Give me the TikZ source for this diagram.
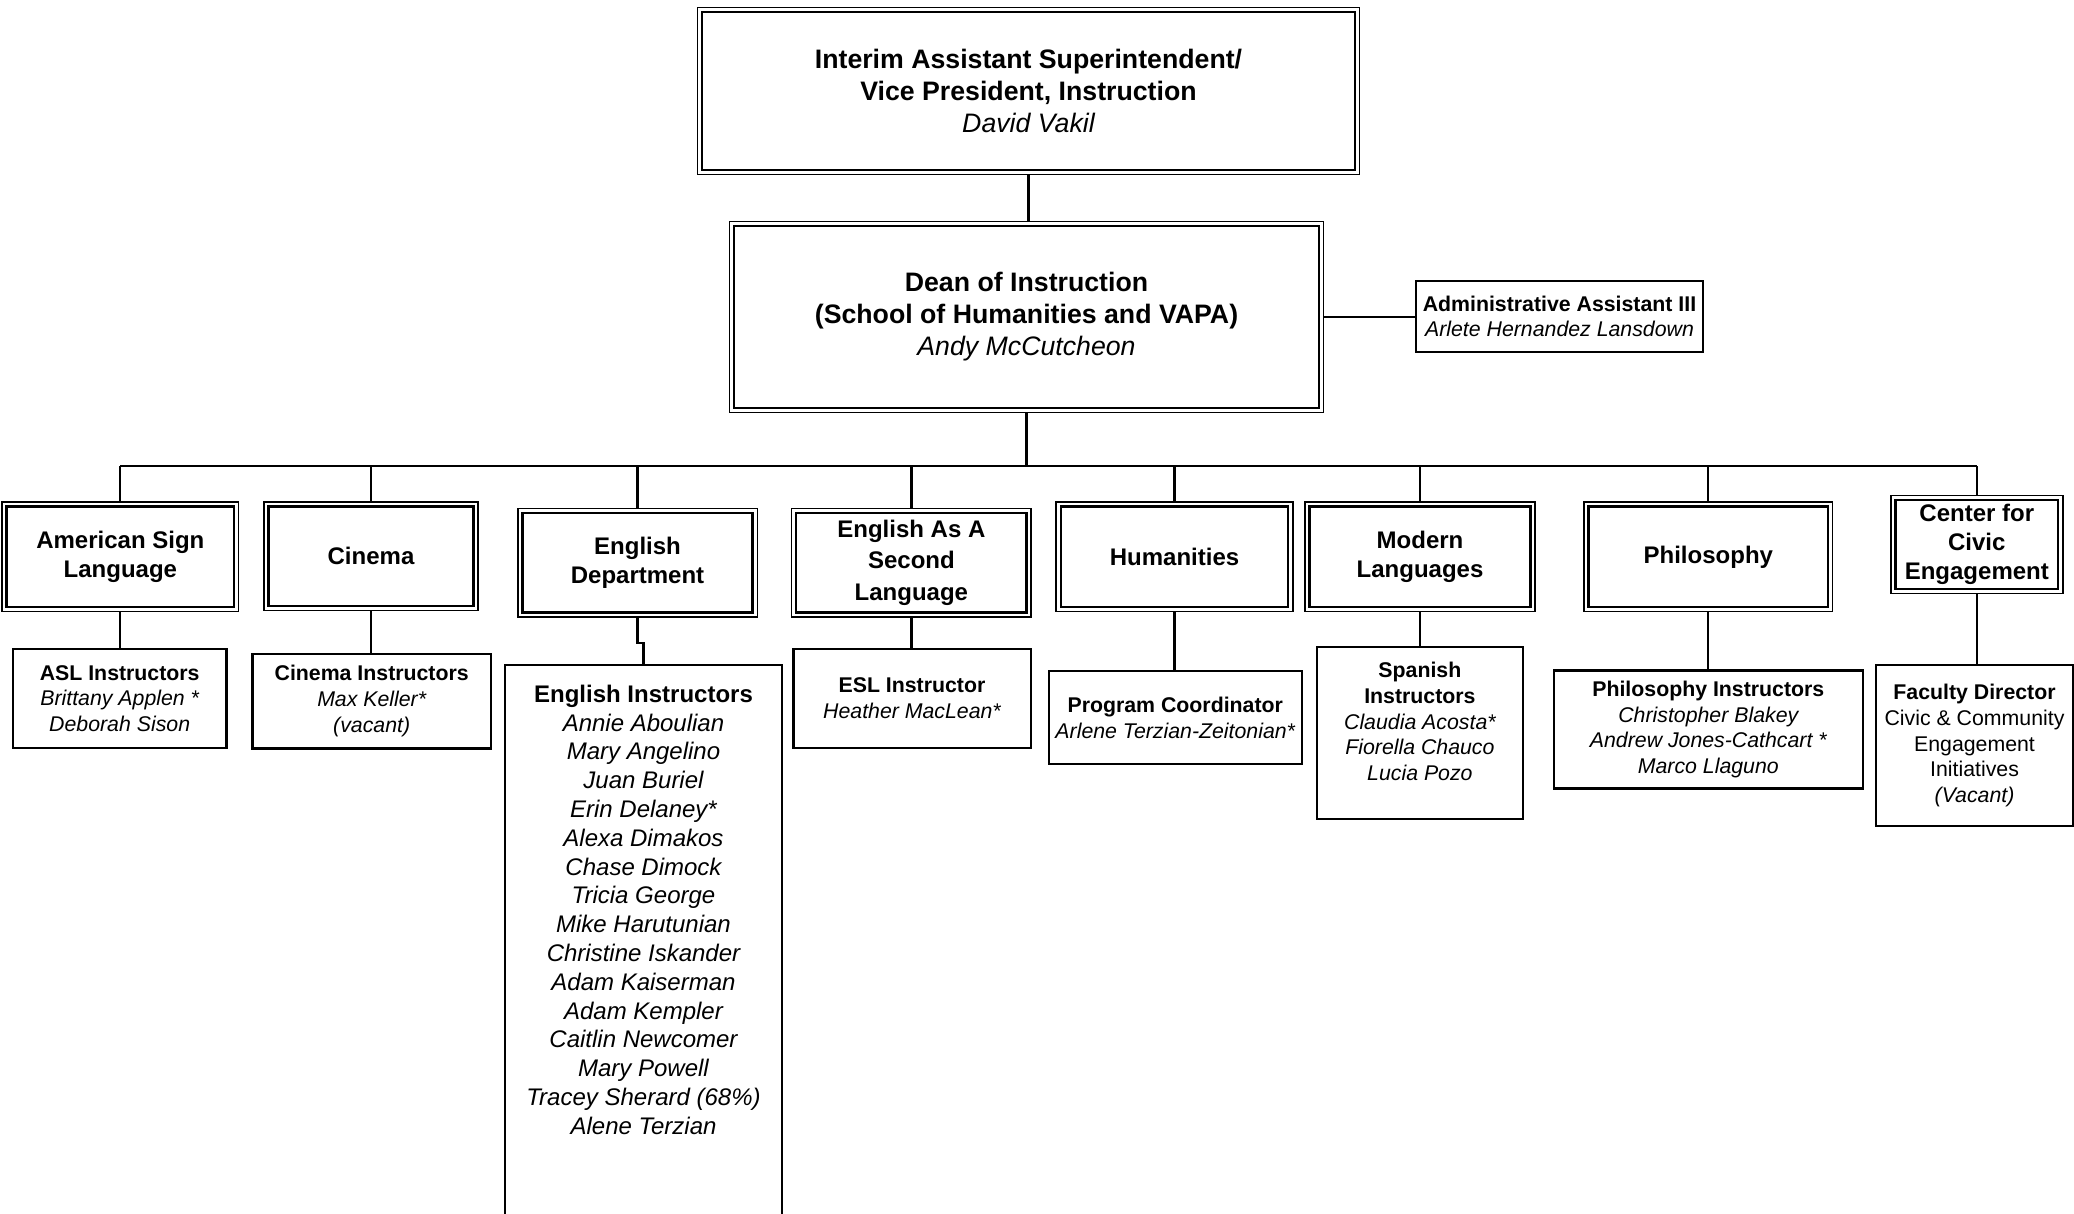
\documentclass[tikz,border=0pt]{standalone}
\usepackage{fontspec}
\setmainfont{Liberation Sans}
\newcommand\pname[1]{{\mdseries\itshape #1}}
\newcommand\plainln[1]{{\mdseries\upshape #1}}
\begin{document}
\begin{tikzpicture}[x=1pt,y=-1pt,
  dbl/.style={draw, line width=1.4pt, inner sep=0pt, align=center,
    path picture={\draw[line width=2.3pt]
      ([shift={(4.6pt,-4.6pt)}]path picture bounding box.north west) rectangle
      ([shift={(-4.6pt,4.6pt)}]path picture bounding box.south east);}},
  sgl/.style={draw, line width=2.2pt, inner sep=0pt, align=center},
  conn/.style={line width=2.2pt},
  big/.style={font=\fontsize{26.7}{32}\selectfont\bfseries},
  dept/.style={font=\fontsize{24}{29}\selectfont\bfseries},
  sub/.style={font=\fontsize{21.3}{25.8}\selectfont\bfseries},
  txt/.style={inner sep=0pt, align=center}]
\useasboundingbox (0,0) rectangle (2074,1214);

% top levels
\node[dbl, big, minimum width=661.7, minimum height=166.7] (vp) at (1028.5,91)
  {Interim Assistant Superintendent/\\Vice President, Instruction\\\pname{David Vakil}};
\node[dbl, big, minimum width=593.7, minimum height=190.7] (dean) at (1026.5,317)
  {Dean of Instruction\\(School of Humanities and VAPA)\\\pname{Andy McCutcheon}};
\node[sgl, font=\fontsize{21.3}{25}\selectfont\bfseries, minimum width=286.8, minimum height=70.8] (admin) at (1559.5,316.5)
  {Administrative Assistant III\\\pname{Arlete Hernandez Lansdown}};

% departments
\node[dbl, dept, minimum width=236.8, minimum height=109.8] (asl) at (120.35,556.85) {American Sign\\Language};
\node[dbl, dept, minimum width=214.3, minimum height=108.5] (cin) at (371,556.2) {Cinema};
\node[dbl, dept, minimum width=239.4, minimum height=108.5] (engd) at (637.5,562.8) {English\\Department};
\node[dbl, dept, font=\fontsize{24}{31.5}\selectfont\bfseries, minimum width=239.4, minimum height=108.5] (esl) at (911.4,562.8) {English As A\\Second\\Language};
\node[dbl, dept, minimum width=236.8, minimum height=109.8] (hum) at (1174.5,556.85) {Humanities};
\node[dbl, dept, minimum width=230.2, minimum height=109.8] (mod) at (1420,556.85) {Modern\\Languages};
\node[dbl, dept, minimum width=248.6, minimum height=109.8] (phil) at (1708.3,556.85) {Philosophy};
\node[dbl, dept, minimum width=172, minimum height=97.9] (cce) at (1976.8,544.3) {Center for\\Civic\\Engagement};

% staff boxes
\node[sgl, sub, minimum width=213.4, minimum height=99.7] (asli) at (119.7,698.5)
  {ASL Instructors\\\pname{Brittany Applen *}\\\pname{Deborah Sison}};
\node[sgl, sub, minimum width=238.6, minimum height=94.4] (cini) at (371.7,701.2)
  {Cinema Instructors\\\pname{Max Keller*}\\\pname{(vacant)}};
\node[sgl, anchor=north, minimum width=276.8, minimum height=600] (engi) at (643.5,663.8) {};
\node[txt, font=\fontsize{24}{28.8}\selectfont\bfseries] (engit) at (643.5,909.8)
  {English Instructors\\\pname{Annie Aboulian}\\\pname{Mary Angelino}\\\pname{Juan Buriel}\\\pname{Erin Delaney*}\\
   \pname{Alexa Dimakos}\\\pname{Chase Dimock}\\\pname{Tricia George}\\\pname{Mike Harutunian}\\
   \pname{Christine Iskander}\\\pname{Adam Kaiserman}\\\pname{Adam Kempler}\\\pname{Caitlin Newcomer}\\
   \pname{Mary Powell}\\\pname{Tracey Sherard (68\%)}\\\pname{Alene Terzian}};
\node[sgl, sub, minimum width=237.2, minimum height=99.7] (esli) at (912,698.5)
  {ESL Instructor\\\pname{Heather MacLean*}};
\node[sgl, sub, minimum width=253.1, minimum height=93] (prog) at (1175.25,717.5)
  {Program Coordinator\\\pname{Arlene Terzian-Zeitonian*}};
\node[sgl, minimum width=205.6, minimum height=172.3] (span) at (1419.9,732.75) {};
\node[txt, sub] (spant) at (1419.9,721.5)
  {Spanish\\Instructors\\\pname{Claudia Acosta*}\\\pname{Fiorella Chauco}\\\pname{Lucia Pozo}};
\node[sgl, sub, minimum width=308.6, minimum height=118.1] (phili) at (1708.3,729.5)
  {Philosophy Instructors\\\pname{Christopher Blakey}\\\pname{Andrew Jones-Cathcart *}\\\pname{Marco Llaguno}};
\node[sgl, sub, minimum width=196.3, minimum height=160.5] (fac) at (1974.5,745.5)
  {Faculty Director\\\plainln{Civic \& Community}\\\plainln{Engagement}\\\plainln{Initiatives}\\\pname{(Vacant)}};

% connectors
\coordinate (busL) at (120.35,466);
\coordinate (busR) at (1976.8,466);
\draw[conn] (vp.south) -- (vp.south |- dean.north);
\draw[conn] (dean.east) -- (dean.east -| admin.west);
\draw[conn] (dean.south) -- (dean.south |- busL);
\draw[conn] (busL) -- (busR);
\foreach \d in {asl,cin,engd,esl,hum,mod,phil,cce}
  \draw[conn] (\d.north) -- (\d.north |- busL);
\draw[conn] (asl.south) -- (asl.south |- asli.north);
\draw[conn] (cin.south) -- (cin.south |- cini.north);
\coordinate (jog) at (637.5,643);
\draw[conn] (engd.south) -- (jog) -| (engi.north);
\draw[conn] (esl.south) -- (esl.south |- esli.north);
\draw[conn] (hum.south) -- (hum.south |- prog.north);
\draw[conn] (mod.south) -- (mod.south |- span.north);
\draw[conn] (phil.south) -- (phil.south |- phili.north);
\draw[conn] (cce.south) -- (cce.south |- fac.north);
\end{tikzpicture}
\end{document}
